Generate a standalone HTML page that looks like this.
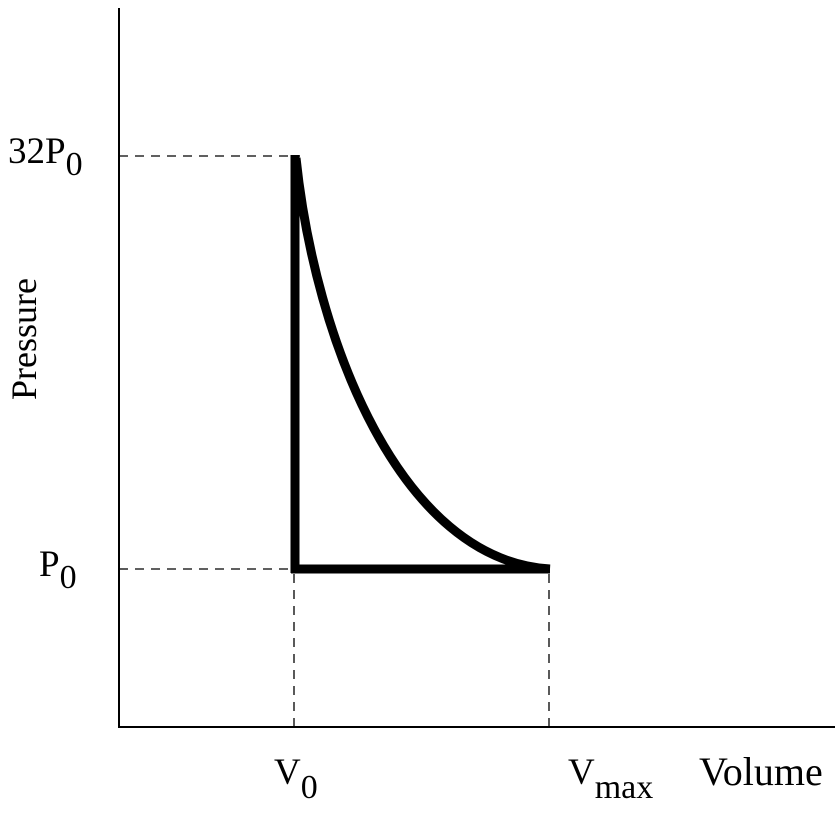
<!DOCTYPE html>
<html><head><style>html,body{margin:0;padding:0;background:#fff}</style></head>
<body>
<svg width="835" height="808" xmlns="http://www.w3.org/2000/svg" font-family="Liberation Serif, serif" font-size="37" fill="#000">
<line x1="119" y1="8" x2="119" y2="728" stroke="#000" stroke-width="2"/>
<line x1="118" y1="727" x2="835" y2="727" stroke="#000" stroke-width="2"/>
<g stroke="#000" stroke-width="1.3" stroke-dasharray="9,7">
<line x1="119" y1="156" x2="300" y2="156"/>
<line x1="119" y1="569" x2="292" y2="569"/>
<line x1="294" y1="574" x2="294" y2="727"/>
<line x1="549" y1="574" x2="549" y2="727"/>
</g>
<g stroke="#000" stroke-width="9" fill="none">
<line x1="295" y1="155" x2="295" y2="573"/>
<line x1="291" y1="569" x2="550" y2="569"/>
<path d="M296,158 C315,340 400,560 550,569"/>
</g>
<text x="8" y="163">32P<tspan font-size="34" dy="12">0</tspan></text>
<text x="39" y="576">P<tspan font-size="34" dy="12">0</tspan></text>
<text x="274" y="784">V<tspan font-size="34" dy="14">0</tspan></text>
<text x="568" y="784">V<tspan font-size="34" dy="14">max</tspan></text>
<text x="699" y="785" font-size="40">Volume</text>
<text transform="translate(36,339) rotate(-90)" text-anchor="middle" font-size="36">Pressure</text>
</svg>
</body></html>
